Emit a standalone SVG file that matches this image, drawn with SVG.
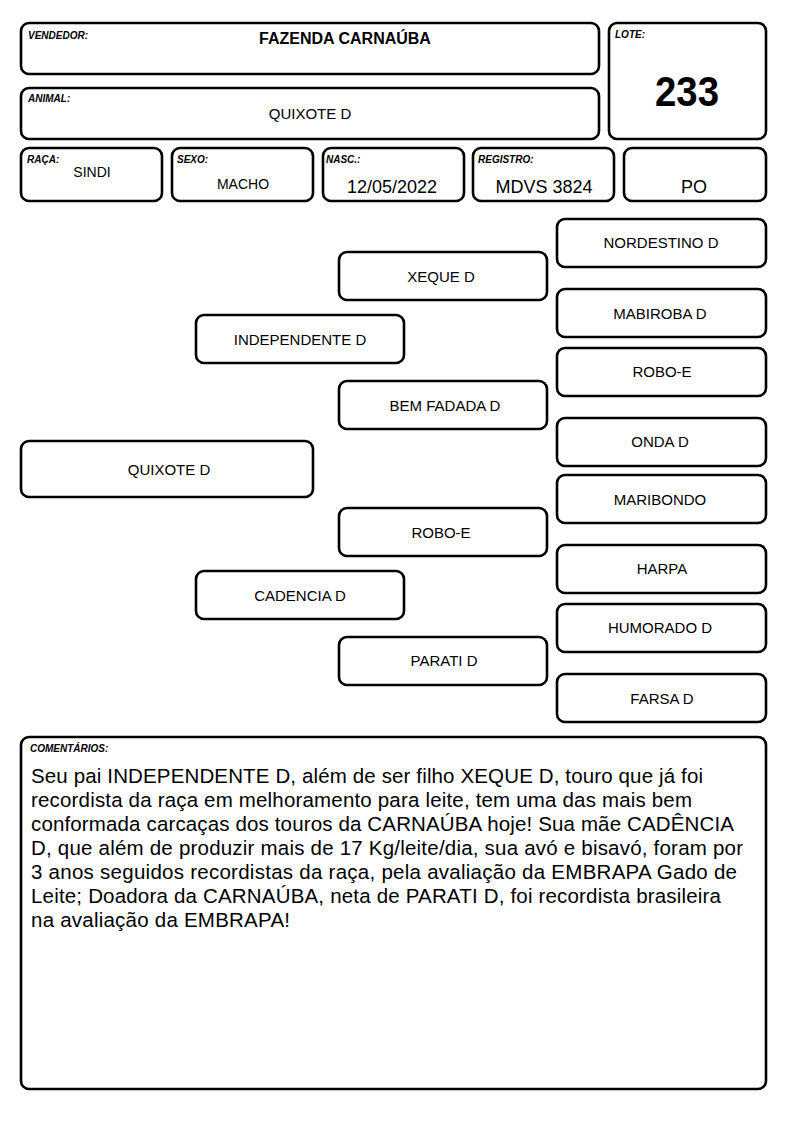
<svg xmlns="http://www.w3.org/2000/svg" width="794" height="1123" viewBox="0 0 794 1123">
<style>
rect.b{fill:#fff;stroke:#000;stroke-width:2.6}
.lbl{font-family:"Liberation Sans",Arial,sans-serif;font-size:10px;font-weight:bold;font-style:italic;fill:#000}
.v{font-family:"Liberation Sans",Arial,sans-serif;fill:#000;text-anchor:middle}
.p{font-family:"Liberation Sans",Arial,sans-serif;font-size:15px;fill:#000;text-anchor:middle}
.c{font-family:"Liberation Sans",Arial,sans-serif;font-size:20.5px;fill:#000}
</style>
<rect width="794" height="1123" fill="#fff"/>
<g id="vendedor"><rect class="b" x="21" y="23" width="578" height="51" rx="8"/><text class="lbl" x="28" y="39">VENDEDOR:</text><text class="v" x="345" y="44" font-size="16" font-weight="bold">FAZENDA CARNAÚBA</text></g>
<g id="lote"><rect class="b" x="609" y="23" width="157" height="116" rx="8"/><text class="lbl" x="615" y="38">LOTE:</text><text class="v" x="687" y="106" font-size="42" font-weight="bold" textLength="64" lengthAdjust="spacingAndGlyphs">233</text></g>
<g id="animal"><rect class="b" x="21" y="88" width="578" height="51" rx="8"/><text class="lbl" x="28" y="102">ANIMAL:</text><text class="v" x="310" y="119" font-size="15">QUIXOTE D</text></g>
<g id="raca"><rect class="b" x="21" y="148" width="141" height="53" rx="8"/><text class="lbl" x="27" y="163">RAÇA:</text><text class="v" x="92" y="177" font-size="14">SINDI</text></g>
<g id="sexo"><rect class="b" x="172" y="148" width="141" height="53" rx="8"/><text class="lbl" x="177" y="163">SEXO:</text><text class="v" x="243" y="189" font-size="14">MACHO</text></g>
<g id="nasc"><rect class="b" x="323" y="148" width="141" height="53" rx="8"/><text class="lbl" x="326" y="163">NASC.:</text><text class="v" x="392" y="193" font-size="18">12/05/2022</text></g>
<g id="registro"><rect class="b" x="473" y="148" width="141" height="53" rx="8"/><text class="lbl" x="478" y="163">REGISTRO:</text><text class="v" x="544" y="193" font-size="18">MDVS 3824</text></g>
<g id="po"><rect class="b" x="624" y="148" width="142" height="53" rx="8"/><text class="v" x="694" y="193" font-size="18">PO</text></g>

<g id="connectors"></g>

<g id="n-quixote"><rect class="b" x="21" y="441" width="292" height="56" rx="8"/><text class="p" x="169" y="475">QUIXOTE D</text></g>
<g id="n-independente"><rect class="b" x="196" y="315" width="208" height="48" rx="8"/><text class="p" x="300" y="345">INDEPENDENTE D</text></g>
<g id="n-cadencia"><rect class="b" x="196" y="571" width="208" height="48" rx="8"/><text class="p" x="300" y="601">CADENCIA D</text></g>
<g id="n-xeque"><rect class="b" x="339" y="252" width="208" height="48" rx="8"/><text class="p" x="441" y="282">XEQUE D</text></g>
<g id="n-bemfadada"><rect class="b" x="339" y="381" width="208" height="48" rx="8"/><text class="p" x="445" y="411">BEM FADADA D</text></g>
<g id="n-roboe1"><rect class="b" x="339" y="508" width="208" height="48" rx="8"/><text class="p" x="441" y="538">ROBO-E</text></g>
<g id="n-parati"><rect class="b" x="339" y="637" width="208" height="48" rx="8"/><text class="p" x="444" y="666">PARATI D</text></g>
<g id="n-nordestino"><rect class="b" x="557" y="219" width="209" height="48" rx="8"/><text class="p" x="661" y="248">NORDESTINO D</text></g>
<g id="n-mabiroba"><rect class="b" x="557" y="289" width="209" height="48" rx="8"/><text class="p" x="660" y="319">MABIROBA D</text></g>
<g id="n-roboe2"><rect class="b" x="557" y="348" width="209" height="48" rx="8"/><text class="p" x="662" y="377">ROBO-E</text></g>
<g id="n-onda"><rect class="b" x="557" y="418" width="209" height="48" rx="8"/><text class="p" x="660" y="447">ONDA D</text></g>
<g id="n-maribondo"><rect class="b" x="557" y="475" width="209" height="48" rx="8"/><text class="p" x="660" y="505">MARIBONDO</text></g>
<g id="n-harpa"><rect class="b" x="557" y="545" width="209" height="48" rx="8"/><text class="p" x="662" y="574">HARPA</text></g>
<g id="n-humorado"><rect class="b" x="557" y="604" width="209" height="48" rx="8"/><text class="p" x="660" y="633">HUMORADO D</text></g>
<g id="n-farsa"><rect class="b" x="557" y="674" width="209" height="48" rx="8"/><text class="p" x="662" y="704">FARSA D</text></g>

<g id="comentarios"><rect class="b" x="21" y="737" width="745" height="352" rx="8"/><text class="lbl" x="30" y="752" font-size="9">COMENTÁRIOS:</text>
<text class="c" x="31" y="783" textLength="672" lengthAdjust="spacing">Seu pai INDEPENDENTE D, além de ser filho XEQUE D, touro que já foi</text>
<text class="c" x="31" y="807" textLength="661" lengthAdjust="spacing">recordista da raça em melhoramento para leite, tem uma das mais bem</text>
<text class="c" x="31" y="831" textLength="703" lengthAdjust="spacing">conformada carcaças dos touros da CARNAÚBA hoje! Sua mãe CADÊNCIA</text>
<text class="c" x="31" y="855" textLength="712" lengthAdjust="spacing">D, que além de produzir mais de 17 Kg/leite/dia, sua avó e bisavó, foram por</text>
<text class="c" x="31" y="879" textLength="706" lengthAdjust="spacing">3 anos seguidos recordistas da raça, pela avaliação da EMBRAPA Gado de</text>
<text class="c" x="31" y="903" textLength="690" lengthAdjust="spacing">Leite; Doadora da CARNAÚBA, neta de PARATI D, foi recordista brasileira</text>
<text class="c" x="31" y="927" textLength="259" lengthAdjust="spacing">na avaliação da EMBRAPA!</text>
</g>
</svg>
